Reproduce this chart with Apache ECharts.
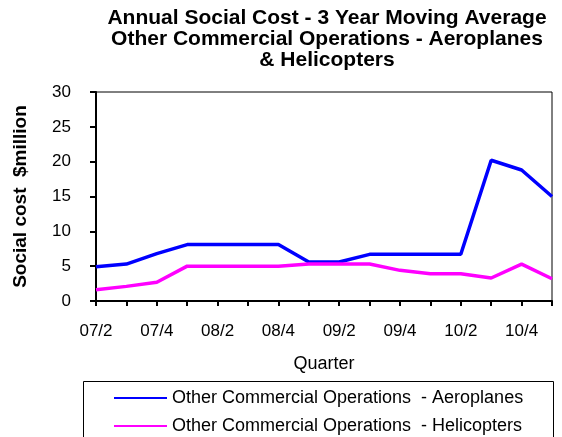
<!DOCTYPE html>
<html>
<head>
<meta charset="utf-8">
<script src="https://cdn.jsdelivr.net/npm/echarts@6/dist/echarts.min.js"></script>
<style>
  html, body { margin: 0; padding: 0; background: #fff; }
  #chart { width: 562px; height: 437px; }
</style>
</head>
<body>
<div id="chart"></div>
<script>
// Quarters (year/quarter)
const quarters = ['07/2','07/3','07/4','08/1','08/2','08/3','08/4','09/1',
                  '09/2','09/3','09/4','10/1','10/2','10/3','10/4','11/1'];
// Annual social cost, 3 year moving average ($ million)
const aeroplanes  = [4.9, 5.3, 6.8, 8.1, 8.1, 8.1, 8.1, 5.6, 5.6, 6.7, 6.7, 6.7, 6.7, 20.2, 18.8, 15.0];
const helicopters = [1.6, 2.1, 2.7, 5.0, 5.0, 5.0, 5.0, 5.3, 5.3, 5.3, 4.4, 3.9, 3.9, 3.3, 5.3, 3.2];
const seriesNames = ['Other Commercial Operations  - Aeroplanes',
                     'Other Commercial Operations  - Helicopters'];
const titleLines = ['Annual Social Cost - 3 Year Moving Average',
                    'Other Commercial Operations - Aeroplanes',
                    '& Helicopters'];

const FONT = '"Liberation Sans", Arial, sans-serif';
const chart = echarts.init(document.getElementById('chart'), null, { renderer: 'canvas' });

// one legend entry per row, both inside a shared framed box
const legendRow = (name, top) => ({
  orient: 'vertical',
  left: 114, top: top,
  padding: 0,
  itemWidth: 53, itemHeight: 2,
  icon: 'rect',
  textStyle: { fontFamily: FONT, fontSize: 18, color: '#000', lineHeight: 20 },
  data: [name]
});

chart.setOption({
  backgroundColor: '#ffffff',
  animation: false,
  graphic: [
    {
      type: 'text',
      x: 327, y: 8,
      style: {
        text: titleLines.join('\n'),
        font: 'bold 21px ' + FONT,
        lineHeight: 21,
        fill: '#000',
        align: 'center'
      }
    },
    {
      type: 'rect',
      shape: { x: 83.5, y: 381.5, width: 470, height: 80 },
      style: { fill: 'none', stroke: '#000', lineWidth: 1 },
      z: 0
    }
  ],
  grid: {
    left: 96, right: 10, top: 92, bottom: 136,
    show: true, borderColor: '#000', borderWidth: 1, backgroundColor: 'transparent'
  },
  legend: [legendRow(seriesNames[0], 388), legendRow(seriesNames[1], 416)],
  xAxis: {
    type: 'category',
    data: quarters,
    boundaryGap: false,
    name: 'Quarter',
    nameLocation: 'middle',
    nameGap: 54,
    nameTextStyle: { fontFamily: FONT, fontSize: 18, color: '#000' },
    axisLine: { lineStyle: { color: '#000', width: 2 } },
    axisTick: { show: true, interval: 0, length: 5, lineStyle: { color: '#000', width: 2 } },
    axisLabel: { interval: 1, margin: 22, fontFamily: FONT, fontSize: 17, color: '#000' },
    splitLine: { show: false }
  },
  yAxis: {
    type: 'value',
    min: 0, max: 30, interval: 5,
    name: 'Social cost  $million',
    nameLocation: 'middle',
    nameRotate: 90,
    nameGap: 66,
    nameTextStyle: { fontFamily: FONT, fontSize: 19, fontWeight: 'bold', color: '#000' },
    axisLine: { show: true, lineStyle: { color: '#000', width: 2 } },
    axisTick: { show: true, length: 6, lineStyle: { color: '#000', width: 2 } },
    axisLabel: { margin: 25, fontFamily: FONT, fontSize: 17, color: '#000' },
    splitLine: { show: false }
  },
  series: [
    {
      name: seriesNames[0], type: 'line', data: aeroplanes,
      symbol: 'none', color: '#0000ff',
      lineStyle: { width: 3.5, color: '#0000ff' }
    },
    {
      name: seriesNames[1], type: 'line', data: helicopters,
      symbol: 'none', color: '#ff00ff',
      lineStyle: { width: 3.5, color: '#ff00ff' }
    }
  ]
});
</script>
</body>
</html>
